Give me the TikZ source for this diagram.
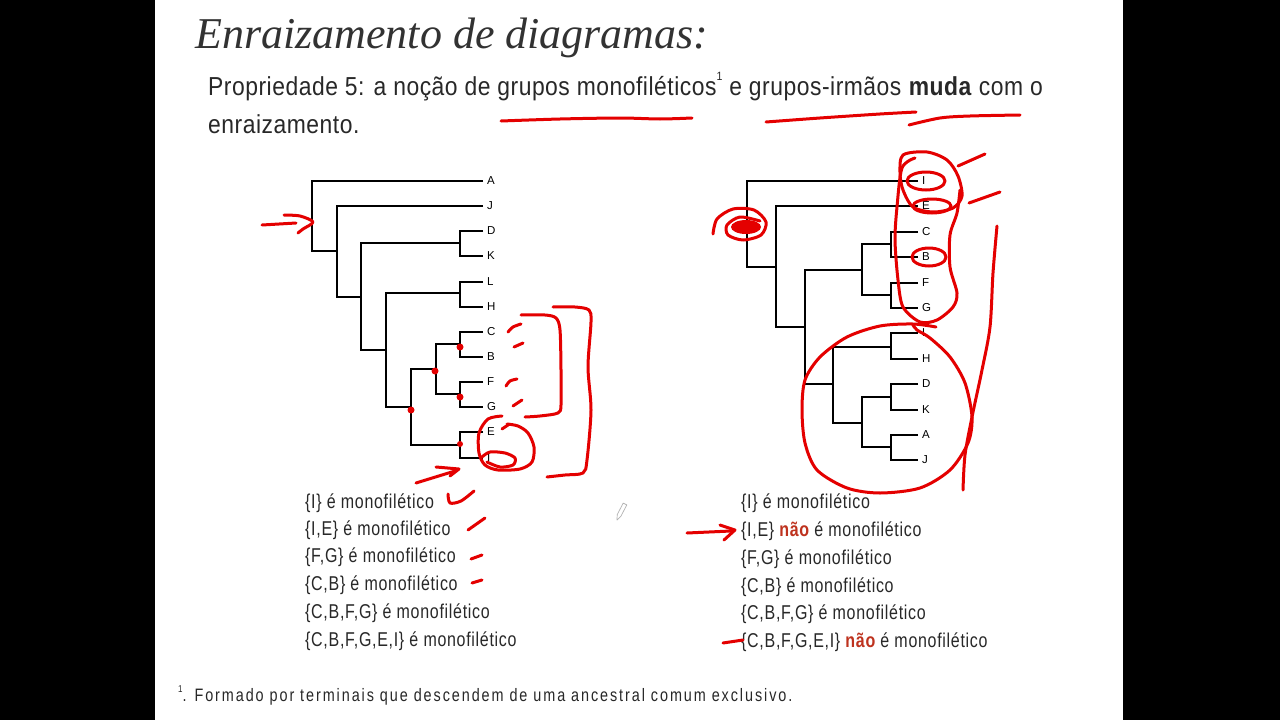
\documentclass[tikz,border=0pt]{standalone}
\usepackage{fontspec}
\setmainfont{Liberation Sans}
\newfontfamily\listfont[FakeStretch=0.8,LetterSpace=3.5]{Liberation Sans}
\newfontfamily\subfont[FakeStretch=0.88,LetterSpace=2]{Liberation Sans}
\newfontfamily\footfont[FakeStretch=0.8,LetterSpace=10.7]{Liberation Sans}
\newfontfamily\labfont{Liberation Sans}
\newfontfamily\titlefont{Liberation Serif}
\definecolor{inkred}{RGB}{228,0,0}
\definecolor{naored}{RGB}{190,50,30}
\definecolor{txt}{RGB}{40,40,40}
\definecolor{titlegray}{RGB}{50,50,50}
\newcommand{\supone}{\raisebox{0.55em}{\fontsize{12}{12}\selectfont 1}}
\begin{document}
\begin{tikzpicture}[x=1pt,y=-1pt,
  tree/.style={line width=1.3pt, draw=black},
  lab/.style={anchor=west, inner sep=0pt, font=\labfont\fontsize{11.5}{11.5}\selectfont},
  ink/.style={draw=inkred, line width=3pt, line cap=round, line join=round},
  item/.style={anchor=west, inner sep=0pt, text=txt, font=\listfont\fontsize{20}{24}\selectfont},
  dot/.style={fill=inkred}]
\useasboundingbox (0,0) rectangle (1280,720);
\fill[white] (0,0) rectangle (1280,720);
\fill[black] (0,0) rectangle (155,720);
\fill[black] (1123,0) rectangle (1280,720);

% ---------- texts ----------
\node[anchor=base west, inner sep=0pt, text=titlegray, font=\titlefont\itshape\fontsize{44}{44}\selectfont] (title) at (195,48) {Enraizamento de diagramas:};
\node[anchor=base west, inner sep=0pt, text=txt, font=\subfont\fontsize{26}{26}\selectfont] (sub1) at (208,95) {Propriedade 5: a noção de grupos monofiléticos\supone{} e grupos-irmãos \textbf{muda} com o};
\node[anchor=base west, inner sep=0pt, text=txt, font=\subfont\fontsize{26}{26}\selectfont] (sub2) at (208,133) {enraizamento.};
\node[anchor=west, inner sep=0pt, text=txt, font=\footfont\fontsize{18}{18}\selectfont] (foot) at (178,695) {\raisebox{0.5em}{\fontsize{10}{10}\selectfont 1}. Formado por terminais que descendem de uma ancestral comum exclusivo.};

% left list
\node[item] (la1) at (305,503) {\{I\} é monofilético};
\node[item] (la2) at (305,530) {\{I,E\} é monofilético};
\node[item] (la3) at (305,557) {\{F,G\} é monofilético};
\node[item] (la4) at (305,585) {\{C,B\} é monofilético};
\node[item] (la5) at (305,613) {\{C,B,F,G\} é monofilético};
\node[item] (la6) at (305,641) {\{C,B,F,G,E,I\} é monofilético};
% right list
\node[item] (ra1) at (741,503) {\{I\} é monofilético};
\node[item] (ra2) at (741,531) {\{I,E\} \textcolor{naored}{\bfseries não} é monofilético};
\node[item] (ra3) at (741,559) {\{F,G\} é monofilético};
\node[item] (ra4) at (741,587) {\{C,B\} é monofilético};
\node[item] (ra5) at (741,614) {\{C,B,F,G\} é monofilético};
\node[item] (ra6) at (741,642) {\{C,B,F,G,E,I\} \textcolor{naored}{\bfseries não} é monofilético};

% ---------- left tree ----------
\foreach \n/\y in {A/181,J/206,D/231,K/256,L/282,H/307,C/332,B/357,F/382,G/407,E/432,I/458} {
  \coordinate (lt\n) at (483,\y);
  \node[lab] (ltl\n) at (487,\y) {\n};
}
\coordinate (lDK) at (460,243);
\coordinate (lLH) at (460,293);
\coordinate (lCB) at (460,344);
\coordinate (lFG) at (460,394);
\coordinate (lEI) at (460,445);
\coordinate (lCBFG) at (436,369);
\coordinate (l411) at (411,407);
\coordinate (l386) at (386,350);
\coordinate (l361) at (361,297);
\coordinate (l337) at (337,251);
\coordinate (lroot) at (312,216);
\draw[tree] (ltD) -| (lDK) |- (ltK);
\draw[tree] (ltL) -| (lLH) |- (ltH);
\draw[tree] (ltC) -| (lCB) |- (ltB);
\draw[tree] (ltF) -| (lFG) |- (ltG);
\draw[tree] (ltE) -| (lEI) |- (ltI);
\draw[tree] (lCB) -| (lCBFG) |- (lFG);
\draw[tree] (lCBFG) -| (l411) |- (lEI);
\draw[tree] (lLH) -| (l386) |- (l411);
\draw[tree] (lDK) -| (l361) |- (l386);
\draw[tree] (ltJ) -| (l337) |- (l361);
\draw[tree] (ltA) -| (lroot) |- (l337);

% ---------- right tree ----------
\foreach \n/\y in {I/181,E/206,C/232,B/257,F/283,G/308,L/333,H/359,D/384,K/410,A/435,J/460} {
  \coordinate (rt\n) at (918,\y);
  \node[lab] (rtl\n) at (922,\y) {\n};
}
\coordinate (rCB) at (891,244);
\coordinate (rFG) at (891,295);
\coordinate (rLH) at (891,347);
\coordinate (rDK) at (891,397);
\coordinate (rAJ) at (891,447);
\coordinate (rCBFG) at (862,270);
\coordinate (rDKAJ) at (862,423);
\coordinate (r833) at (833,384);
\coordinate (r805) at (805,327);
\coordinate (r776) at (776,267);
\coordinate (rroot) at (747,220);
\draw[tree] (rtC) -| (rCB) |- (rtB);
\draw[tree] (rtF) -| (rFG) |- (rtG);
\draw[tree] (rtL) -| (rLH) |- (rtH);
\draw[tree] (rtD) -| (rDK) |- (rtK);
\draw[tree] (rtA) -| (rAJ) |- (rtJ);
\draw[tree] (rCB) -| (rCBFG) |- (rFG);
\draw[tree] (rDK) -| (rDKAJ) |- (rAJ);
\draw[tree] (rLH) -| (r833) |- (rDKAJ);
\draw[tree] (rCBFG) -| (r805) |- (r833);
\draw[tree] (rtE) -| (r776) |- (r805);
\draw[tree] (rtI) -| (rroot) |- (r776);

% ---------- red annotations: header ----------
\draw[ink] plot[smooth] coordinates {(501,121) (560,119) (620,118) (660,119) (692,118)};
\draw[ink] plot[smooth] coordinates {(766,122) (820,118) (880,114) (916,112)};
\draw[ink] plot[smooth] coordinates {(909,125) (940,118) (970,116) (1020,115)};

% ---------- red annotations: left ----------
\coordinate (arL1) at (262,225);
\coordinate (arL2) at (296,223);
\draw[ink] (arL1) -- (arL2);
\draw[ink] plot[smooth] coordinates {(284,215) (300,216) (313,222) (303,229) (298,233)};
\fill[dot] (460,347) circle (3.5);
\fill[dot] (435,371) circle (3.5);
\fill[dot] (411,410) circle (3.5);
\fill[dot] (460,397) circle (3.5);
\fill[dot] (460,444) circle (3);
\draw[ink] plot[smooth] coordinates {(508,332) (513,327) (521,324)};
\draw[ink] (514,347) -- (523,343);
\draw[ink] plot[smooth] coordinates {(506,386) (510,381) (517,379)};
\draw[ink] (513,406) -- (522,400);
\draw[ink] plot[smooth] coordinates {(521,315) (545,315) (556,318) (560,330) (561,370) (561,405) (558,413) (540,416) (525,417)};
\draw[ink] plot[smooth] coordinates {(553,307) (575,307) (589,310) (591,322) (588,367) (591,410) (587,460) (583,473) (565,475) (547,477)};
\draw[ink] plot[smooth] coordinates {(502,416) (488,419) (479,433) (479,453) (485,465) (498,470) (520,469) (532,462) (534,447) (528,433) (518,426) (507,424)};
\draw[ink] plot[smooth] coordinates {(482,457) (490,452) (505,453) (515,458) (513,465) (500,467) (487,462)};
\draw[ink] (502,429) -- (508,425);
\coordinate (arI1) at (416,483);
\coordinate (arI2) at (455,471);
\draw[ink] (arI1) -- (arI2);
\draw[ink] (436,467) -- (459,469) -- (450,476);
\draw[ink] plot[smooth] coordinates {(448,494) (450,503) (461,501) (474,491)};
\draw[ink] (468,530) -- (485,518);
\draw[ink] (471,559) -- (482,555);
\draw[ink] (472,583) -- (482,580);
% pencil cursor
\draw[gray!60, line width=0.7pt, line join=round] (626.8,504.9) -- (620.8,516.4) -- (617,520) -- (617.2,514.6) -- (623.2,503.1) -- cycle;

% ---------- red annotations: right ----------
\fill[inkred] (746,227) ellipse [x radius=15, y radius=7];
\draw[ink] plot[smooth] coordinates {(713,234) (717,219) (733,209) (754,210) (766,222) (761,235) (743,240) (728,235) (727,225) (740,217) (760,221)};
\draw[ink] plot[smooth cycle] coordinates {(903,155) (927,152) (947,160) (958,176) (962,196) (953,208) (933,212) (913,207) (903,190) (900,173)};
\draw[ink] (926,181) ellipse [x radius=19, y radius=9];
\draw[ink] (932,206) ellipse [x radius=19, y radius=7];
\draw[ink] (929,257) ellipse [x radius=17, y radius=9];
\draw[ink] plot[smooth] coordinates {(960,190) (957,213) (950,235) (950,267) (957,293) (953,307) (937,320) (920,322) (903,307) (898,280) (895,240) (897,207) (902,168) (915,158)};
\draw[ink] (958,166) -- (985,154);
\draw[ink] (969,203) -- (1000,192);
\draw[ink] plot[smooth] coordinates {(936,327) (913,324) (880,326) (847,337) (820,357) (805,380) (802,410) (805,443) (817,470) (847,488) (880,493) (920,488) (950,470) (968,443) (972,417) (965,383) (950,357) (930,338) (917,330) (913,325)};
\draw[ink] plot[smooth] coordinates {(997,226) (993,273) (990,327) (982,370) (972,417) (965,455) (963,490)};
\coordinate (arR1) at (687,533);
\coordinate (arR2) at (731,531);
\draw[ink] (arR1) -- (arR2);
\draw[ink] (720,525) -- (735,530) -- (724,540);
\draw[ink] (723,643) -- (743,640);
\end{tikzpicture}
\end{document}
